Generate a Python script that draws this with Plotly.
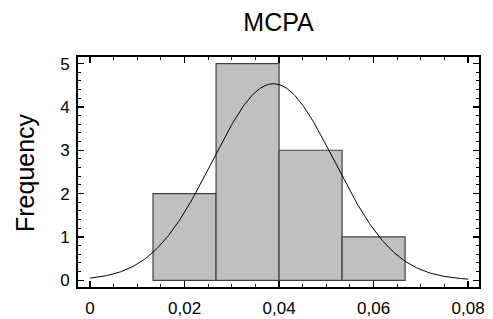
import numpy as np
import plotly.graph_objects as go

# Histogram data (bin edges and counts)
bin_left = [0.013333, 0.026667, 0.04, 0.053333]
bin_width = 0.013333
counts = [2, 5, 3, 1]

# Fitted normal distribution parameters
fit_mean = 0.0388
fit_sigma = 0.0129
n_obs = sum(counts)

x_ticks = [0, 0.02, 0.04, 0.06, 0.08]
x_tick_labels = ["0", "0,02", "0,04", "0,06", "0,08"]
y_ticks = [0, 1, 2, 3, 4, 5]

bin_mid = [b + bin_width / 2 for b in bin_left]

xc = np.linspace(0, 0.08, 300)
yc = n_obs * bin_width / (fit_sigma * np.sqrt(2 * np.pi)) * np.exp(-0.5 * ((xc - fit_mean) / fit_sigma) ** 2)

W, H = 493, 319
L, R, T, B = 78, 14, 57, 32

fig = go.Figure()
fig.add_trace(go.Bar(
    x=bin_mid, y=counts, width=[bin_width] * len(counts),
    marker=dict(color="#C0C0C0", line=dict(color="#404040", width=1.2)),
    showlegend=False,
))
fig.add_trace(go.Scatter(
    x=xc, y=yc, mode="lines", line=dict(color="black", width=1),
    showlegend=False,
))

font = "Liberation Sans, Arial, sans-serif"
fig.update_layout(
    width=W, height=H,
    margin=dict(l=L, r=R, t=T, b=B),
    paper_bgcolor="white", plot_bgcolor="white",
    separators=",.",
    font=dict(family=font, color="black", size=17),
    title=dict(text="MCPA", x=(L + W - R) / 2 / W, xanchor="center",
               y=1 - 22 / H, yanchor="middle", font=dict(size=25, family=font)),
    bargap=0,
    annotations=[dict(text="Frequency", textangle=-90, xref="paper", yref="paper",
                      x=-(L - 25) / (W - L - R), y=0.5, xanchor="center", yanchor="middle",
                      showarrow=False, font=dict(size=25, family=font))],
)
fig.update_xaxes(
    range=[-0.00254, 0.0823], showgrid=False, zeroline=False, automargin=False,
    tickvals=x_ticks, ticktext=x_tick_labels,
    ticks="inside", ticklen=6, tickwidth=1.5, tickcolor="black",
    minor=dict(dtick=0.005, ticks="inside", ticklen=3, tickwidth=1, tickcolor="black"),
    showline=True, linecolor="black", linewidth=2, mirror="allticks",
    tickfont=dict(size=17), ticklabelstandoff=5,
)
fig.update_yaxes(
    range=[-0.155, 5.152], showgrid=False, zeroline=False, automargin=False,
    tickvals=y_ticks,
    ticks="inside", ticklen=6, tickwidth=1.5, tickcolor="black",
    minor=dict(dtick=0.2, ticks="inside", ticklen=3, tickwidth=1, tickcolor="black"),
    showline=True, linecolor="black", linewidth=2, mirror="allticks",
    tickfont=dict(size=17), ticklabelstandoff=3,
)

fig.write_html("out.html", config={"displayModeBar": False, "staticPlot": True},
               post_script="document.body.style.margin='0px';document.body.style.overflow='hidden';")
